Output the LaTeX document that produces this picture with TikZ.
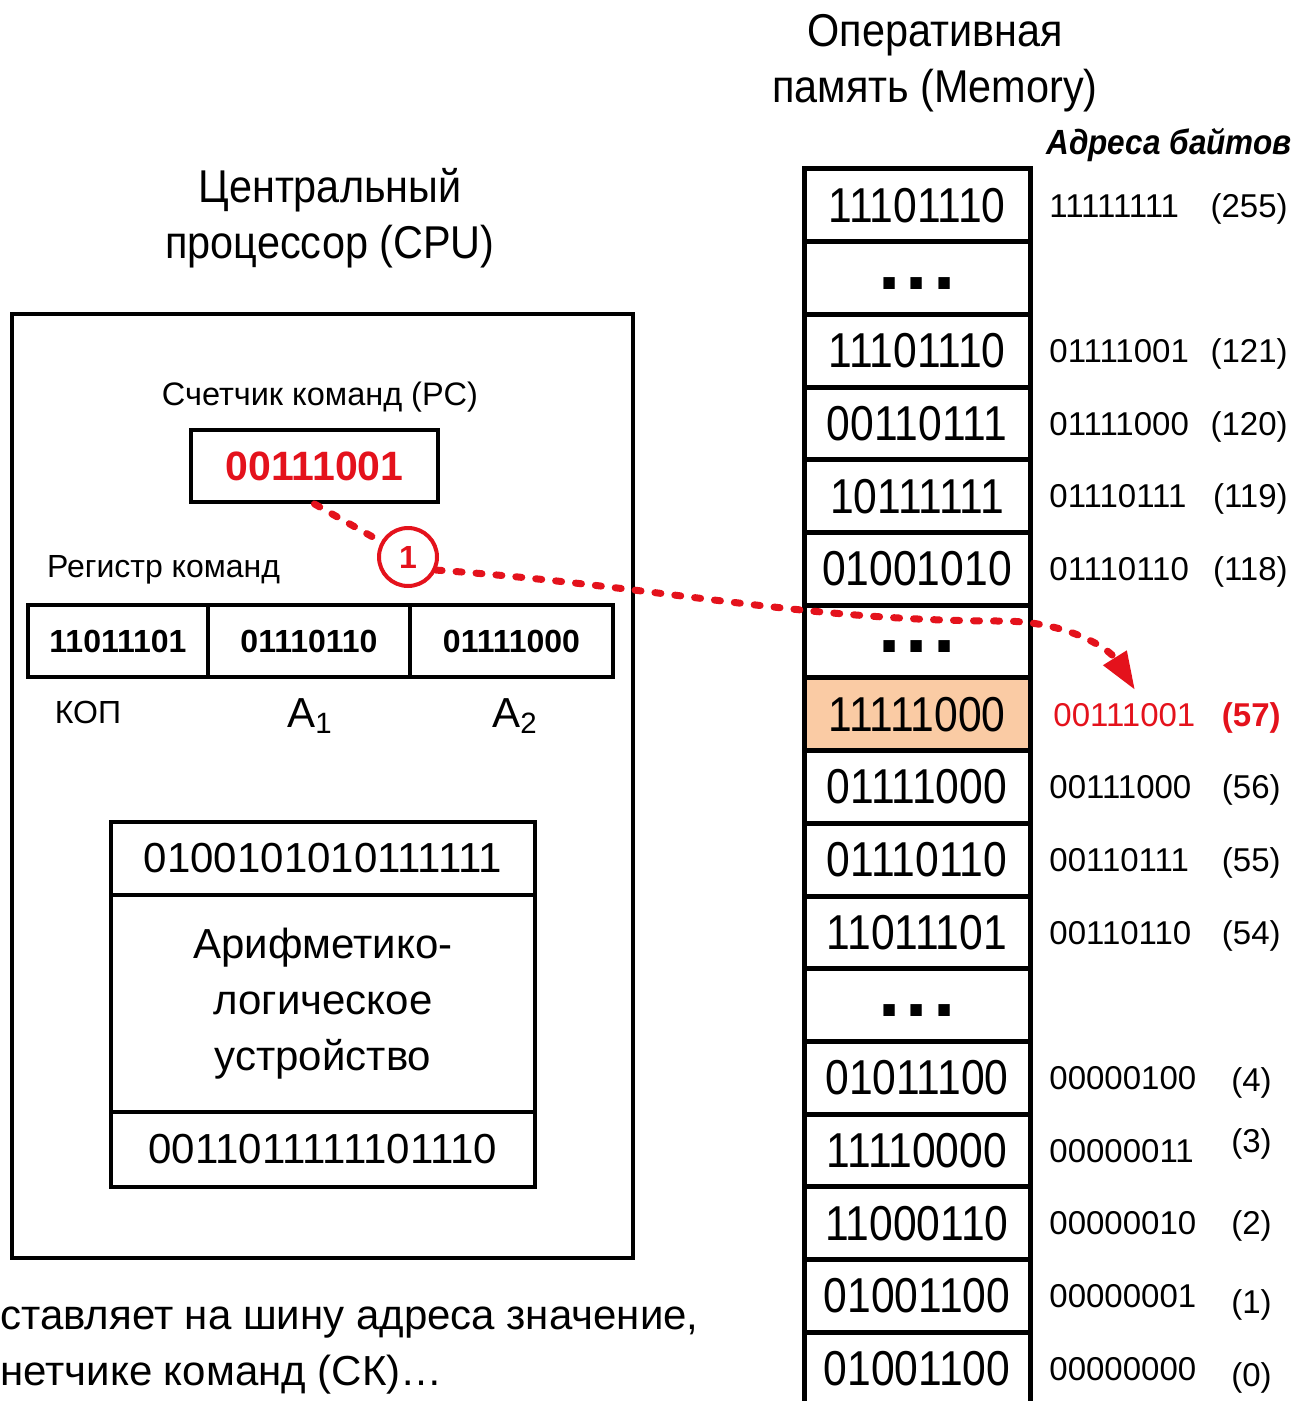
\documentclass[tikz,border=0pt]{standalone}
\usepackage{fontspec}
\setmainfont{Liberation Sans}
\newfontfamily\narrowfont{Liberation Sans}[FakeStretch=0.9]
\newfontfamily\cellfont{Liberation Sans}[FakeStretch=0.87]
\usetikzlibrary{arrows.meta}
\definecolor{peach}{RGB}{250,203,164}
\definecolor{busred}{RGB}{228,18,28}
\newcommand\fs[2]{\fontsize{#1}{#2}\selectfont}
\tikzset{
  headtxt/.style={align=center, font=\narrowfont\fs{23}{28}},
  memcell/.style={draw, line width=2.5pt, minimum width=113pt, minimum height=36.35pt, inner sep=0pt, font=\cellfont\fs{24.5}{28}},
  hotcell/.style={memcell, fill=peach},
  dotsmark/.style={inner sep=0pt, font=\bfseries\fs{40}{40}},
  addr/.style={anchor=west, inner sep=0pt, text height=11.8pt, text depth=0pt, font=\fs{16.5}{19}},
  adec/.style={anchor=east, inner sep=0pt, text height=11.8pt, text depth=0pt, font=\fs{16.5}{19}},
  regcell/.style={draw, line width=2pt, minimum height=36pt, inner sep=0pt, font=\bfseries\fs{16}{19}},
  alucell/.style={draw, line width=2pt, minimum width=212pt, inner sep=0pt, align=center, font=\fs{21}{28}},
  busline/.style={busred, line width=3.5pt, line cap=round, dash pattern=on 3pt off 7pt},
}
\begin{document}
\begin{tikzpicture}[x=0.5pt,y=-0.5pt]
\useasboundingbox (0,0) rectangle (1299,1401);
\node[headtxt] (memtitle) at (935,63) {Оперативная\\память (Memory)};
\node[headtxt] (cputitle) at (330,218) {Центральный\\процессор (CPU)};
\node[font=\narrowfont\bfseries\itshape\fs{17.5}{20}] (bytes) at (1169,145) {Адреса байтов};

% memory
\foreach \val/\st [count=\i from 0] in {11101110/memcell, {}/memcell, 11101110/memcell, 00110111/memcell,
    10111111/memcell, 01001010/memcell, {}/memcell, 11111000/hotcell, 01111000/memcell, 01110110/memcell,
    11011101/memcell, {}/memcell, 01011100/memcell, 11110000/memcell, 11000110/memcell, 01001100/memcell,
    01001100/memcell}
  \node[\st] (m\i) at (917,205.35+72.7*\i) {\val};
\foreach \i in {1,6,11}
  \node[dotsmark] (d\i) at ([yshift=-2.5pt]m\i.center) {.\kern2.5pt.\kern2.5pt.};
\foreach \i/\adr/\dec/\dx/\dy in {0/11111111/(255)/1288/0, 2/01111001/(121)/1288/0, 3/01111000/(120)/1288/0,
    4/01110111/(119)/1288/0, 5/01110110/(118)/1288/0, 8/00111000/(56)/1281/0, 9/00110111/(55)/1281/0,
    10/00110110/(54)/1281/0, 12/00000100/(4)/1272/2, 13/00000011/(3)/1272/-10, 14/00000010/(2)/1272/0,
    15/00000001/(1)/1272/6, 16/00000000/(0)/1272/6}{
  \node[addr] (a\i) at (1049,205.35+72.7*\i) {\adr};
  \node[adec] (n\i) at (\dx,205.35+72.7*\i+\dy) {\dec};
}
\node[addr, text=busred] (a7) at (1053,714.25) {00111001};
\node[adec, text=busred, font=\bfseries\fs{16.5}{19}] (n7) at (1281,714.25) {(57)};

% cpu
\node[draw, line width=2pt, minimum width=310.5pt, minimum height=472pt] (cpu) at (322.5,786) {};
\node[font=\fs{16.25}{19}] (pclbl) at (320,397) {Счетчик команд (PC)};
\node[draw, line width=2pt, minimum width=123.5pt, minimum height=36pt, text=busred, font=\bfseries\fs{20.5}{24}] (pc) at (314.5,466) {00111001};
\node[anchor=west, font=\fs{16}{18}] (irlbl) at (40,570) {Регистр команд};
\node[regcell, minimum width=90pt] (kop) at (118,641) {11011101};
\node[regcell, minimum width=101pt] (adr1) at (309,641) {01110110};
\node[regcell, minimum width=101.5pt] (adr2) at (511.5,641) {01111000};
\node[font=\fs{16}{19}] (kopl) at (88,712) {КОП};
\node[font=\fs{21}{24}] (a1l) at (310,716) {A\textsubscript{1}};
\node[font=\fs{21}{24}] (a2l) at (515,716) {A\textsubscript{2}};
\node[alucell, minimum height=36.5pt] (alutop) at (323,858.5) {0100101010111111};
\node[alucell, minimum height=108.5pt] (alu) at (323,1003.5) {Арифметико-\\логическое\\устройство};
\node[alucell, minimum height=37.5pt] (alubot) at (323,1149.5) {0011011111101110};

\node[anchor=west, inner sep=0pt, font=\fs{21}{26}] (note1) at (0,1323) {ставляет на шину адреса значение,};
\node[anchor=west, inner sep=0pt, font=\fs{21}{26}] (note2) at (0,1375) {нетчике команд (СК)…};

% address bus
\node[circle, draw=busred, line width=2pt, fill=white, minimum size=29pt, inner sep=0pt, text=busred, font=\bfseries\fs{16}{19}] (c1) at (408,557) {1};
\coordinate (bend) at (1000,621);
\coordinate (tip) at (1135,690);
\draw[busline] (pc.south) -- (c1);
\draw[busline, -{Triangle[length=19pt,width=13pt]}] (c1.-25) .. controls (650,585) and (800,621) .. (bend)
  .. controls (1070,621) and (1110,650) .. (tip);
\end{tikzpicture}
\end{document}
